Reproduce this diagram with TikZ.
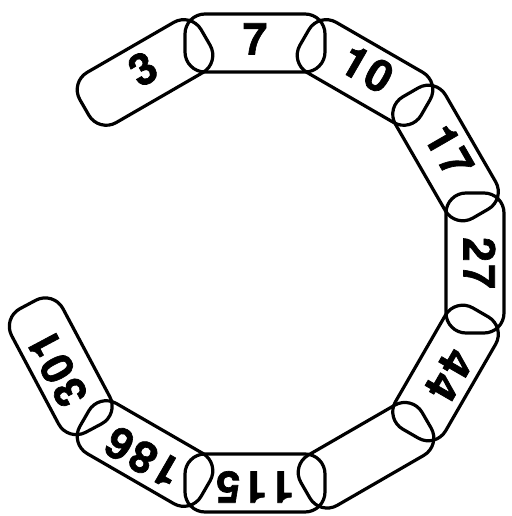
\documentclass[tikz,border=0pt]{standalone}
\usepackage{fontspec}
\usetikzlibrary{calc}
\newfontfamily\linkfont[LetterSpace=6,FakeBold=1.5]{TeX Gyre Heros}
\begin{document}
\begin{tikzpicture}[x=1pt,y=1pt,
  link/.style={draw, line width=3.2pt, rounded corners=20pt,
    minimum width=140pt, minimum height=58pt, inner sep=0pt,
    font=\linkfont\bfseries\fontsize{44}{44}\selectfont,
    text height=32pt, text depth=9pt}]
\useasboundingbox (0,0) rectangle (511,516);
\coordinate (c) at (255,253);
\node[link, rotate=30]   (l3)   at ($(c)+(120:220)$) {3};
\node[link, rotate=0]    (l7)   at ($(c)+(90:220)$)  {7};
\node[link, rotate=-30]  (l10)  at ($(c)+(60:220)$)  {10};
\node[link, rotate=-60]  (l17)  at ($(c)+(30:220)$)  {17};
\node[link, rotate=-90]  (l27)  at ($(c)+(0:220)$)   {27};
\node[link, rotate=-120] (l44)  at ($(c)+(-30:220)$) {44};
\node[link, rotate=-150] (lx)   at ($(c)+(-60:222)$) {};
\node[link, rotate=-180] (l115) at ($(c)+(-90:220)$) {115};
\node[link, rotate=-210] (l186) at ($(c)+(-120:220)$) {186};
\node[link, rotate=-242] (l301) at ($(c)+(-152:220)$) {301};
\end{tikzpicture}
\end{document}
